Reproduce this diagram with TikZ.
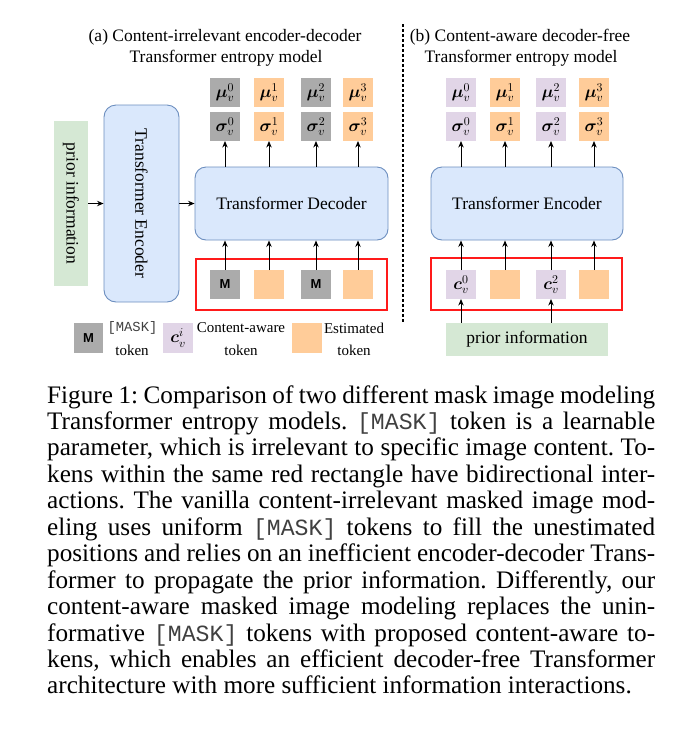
\RequirePackage{fix-cm}
\documentclass[tikz,border=0pt]{standalone}
\usepackage{fontspec}
\setmainfont{Liberation Serif}
\setmonofont[Scale=0.92]{Liberation Mono}
\newfontfamily\arialfont{Liberation Sans}
\usepackage{amsmath,bm}
\usetikzlibrary{arrows.meta}
\definecolor{tgray}{HTML}{ABABAB}
\definecolor{torange}{HTML}{FFCC99}
\definecolor{tpurple}{HTML}{E1D5E7}
\definecolor{tgreen}{HTML}{D5E8D4}
\definecolor{bfill}{HTML}{DAE8FC}
\definecolor{bdraw}{HTML}{6C8EBF}
\definecolor{tred}{HTML}{FF1A1A}
\definecolor{ttgray}{HTML}{404040}
\newcommand\dfnt{\fontsize{17.5}{21}\selectfont}
\newcommand\lfnt{\fontsize{15}{18}\selectfont}
\newcommand\cfnt{\fontsize{25.2}{26.45}\selectfont\frenchspacing}
\newcommand\mlab{\arialfont\bfseries\fontsize{13}{15}\selectfont M}
\newcommand\mtok{{\color{ttgray}\texttt{[MASK]}}}
\newcommand\capline[1]{\makebox[608pt][s]{#1}}
\tikzset{
  tok/.style={minimum width=30pt, minimum height=29pt, inner sep=0pt, outer sep=0pt, font=\fontsize{17}{20}\selectfont},
  gtok/.style={tok, fill=tgray},
  otok/.style={tok, fill=torange},
  ptok/.style={tok, fill=tpurple},
  blk/.style={draw=bdraw, fill=bfill, line width=0.9pt, rounded corners=11pt, inner sep=0pt, font=\dfnt},
  redbox/.style={draw=tred, line width=1.1pt, inner sep=0pt},
  prior/.style={fill=tgreen, inner sep=0pt, font=\dfnt},
  arr/.style={-{Stealth[length=6.5pt,width=5.4pt]}, line width=1pt},
  ttl/.style={anchor=base, inner sep=0pt, font=\dfnt},
  lgd/.style={inner sep=0pt, font=\lfnt},
  capl/.style={anchor=base west, inner sep=0pt, font=\cfnt},
}
\begin{document}
\begin{tikzpicture}[x=1pt,y=-1pt]
\path[use as bounding box] (0,0) rectangle (693,732);

% titles
\node[ttl] (ta1) at (225,41) {(a) Content-irrelevant encoder-decoder};
\node[ttl] (ta2) at (226,62) {Transformer entropy model};
\node[ttl] (tb1) at (520,41) {(b) Content-aware decoder-free};
\node[ttl] (tb2) at (521,62) {Transformer entropy model};

% separator
\coordinate (sepT) at (403,24);
\coordinate (sepB) at (403,322);
\draw[line width=1.1pt, dash pattern=on 3pt off 2pt] (sepT) -- (sepB);

% ---------- (a) ----------
\node[prior, minimum width=34pt, minimum height=165pt] (pa) at (71,203.5) {};
\node[font=\dfnt, rotate=-90] (pat) at (71,203.5) {prior information};
\node[blk, minimum width=75pt, minimum height=197pt, rounded corners=12pt] (enca) at (141.5,203.5) {};
\node[font=\dfnt, rotate=-90] (encat) at (141.5,203.5) {Transformer Encoder};
\node[blk, minimum width=193pt, minimum height=73pt] (dec) at (291.5,203.5) {Transformer Decoder};
\draw[arr] (pa) -- (enca);
\draw[arr] (enca) -- (dec);

\node[redbox, minimum width=191pt, minimum height=51pt] (rba) at (291.5,284.5) {};
\node[gtok] (ia0) at (225,284.5) {\mlab};
\node[otok] (ia1) at (269,284.5) {};
\node[gtok] (ia2) at (316,284.5) {\mlab};
\node[otok] (ia3) at (358,284.5) {};

\node[gtok] (ma0) at (225,92.5) {$\boldsymbol{\mu}_v^0$};
\node[otok] (ma1) at (269,92.5) {$\boldsymbol{\mu}_v^1$};
\node[gtok] (ma2) at (316,92.5) {$\boldsymbol{\mu}_v^2$};
\node[otok] (ma3) at (358,92.5) {$\boldsymbol{\mu}_v^3$};
\node[gtok] (sa0) at (225,126.5) {$\boldsymbol{\sigma}_v^0$};
\node[otok] (sa1) at (269,126.5) {$\boldsymbol{\sigma}_v^1$};
\node[gtok] (sa2) at (316,126.5) {$\boldsymbol{\sigma}_v^2$};
\node[otok] (sa3) at (358,126.5) {$\boldsymbol{\sigma}_v^3$};

\foreach \i in {0,1,2,3} {
  \draw[arr] (ia\i.north) -- (ia\i |- dec.south);
  \draw[arr] (sa\i |- dec.north) -- (sa\i.south);
}

% legend
\node[gtok, minimum width=29pt, minimum height=30pt] (lm) at (88.5,338) {\mlab};
\node[lgd] (lmt1) at (132.5,328) {\mtok};
\node[lgd] (lmt2) at (132,350) {token};
\node[ptok, minimum width=30pt, minimum height=30pt] (lc) at (178,338) {$\boldsymbol{c}_v^i$};
\node[lgd] (lct1) at (241,328) {Content-aware};
\node[lgd] (lct2) at (241,350) {token};
\node[otok, minimum width=30pt, minimum height=30pt] (lo) at (307,338) {};
\node[lgd] (lot1) at (354,328) {Estimated};
\node[lgd] (lot2) at (354,350) {token};

% ---------- (b) ----------
\node[blk, minimum width=192pt, minimum height=73pt] (encb) at (527,203.5) {Transformer Encoder};
\node[redbox, minimum width=191pt, minimum height=52pt] (rbb) at (526.5,284) {};
\node[ptok] (ib0) at (461,284.5) {$\boldsymbol{c}_v^0$};
\node[otok] (ib1) at (505,284.5) {};
\node[ptok] (ib2) at (551,284.5) {$\boldsymbol{c}_v^2$};
\node[otok] (ib3) at (594,284.5) {};
\node[prior, minimum width=162pt, minimum height=33pt] (pb) at (527,339.5) {prior information};

\node[ptok] (mb0) at (461,92.5) {$\boldsymbol{\mu}_v^0$};
\node[otok] (mb1) at (505,92.5) {$\boldsymbol{\mu}_v^1$};
\node[ptok] (mb2) at (551,92.5) {$\boldsymbol{\mu}_v^2$};
\node[otok] (mb3) at (594,92.5) {$\boldsymbol{\mu}_v^3$};
\node[ptok] (sb0) at (461,126.5) {$\boldsymbol{\sigma}_v^0$};
\node[otok] (sb1) at (505,126.5) {$\boldsymbol{\sigma}_v^1$};
\node[ptok] (sb2) at (551,126.5) {$\boldsymbol{\sigma}_v^2$};
\node[otok] (sb3) at (594,126.5) {$\boldsymbol{\sigma}_v^3$};

\foreach \i in {0,1,2,3} {
  \draw[arr] (ib\i.north) -- (ib\i |- encb.south);
  \draw[arr] (sb\i |- encb.north) -- (sb\i.south);
}
\draw[arr] (ib0 |- pb.north) -- (ib0.south);
\draw[arr] (ib2 |- pb.north) -- (ib2.south);

% ---------- caption ----------
\node[capl] (c1) at (47,403) {\capline{Figure 1: Comparison of two different mask image modeling}};
\node[capl] (c2) at (47,429.45) {\capline{Transformer entropy models. \mtok{} token is a learnable}};
\node[capl] (c3) at (47,455.9) {\capline{parameter, which is irrelevant to specific image content. To-}};
\node[capl] (c4) at (47,482.35) {\capline{kens within the same red rectangle have bidirectional inter-}};
\node[capl] (c5) at (47,508.8) {\capline{actions. The vanilla content-irrelevant masked image mod-}};
\node[capl] (c6) at (47,535.25) {\capline{eling uses uniform \mtok{} tokens to fill the unestimated}};
\node[capl] (c7) at (47,561.7) {\capline{positions and relies on an inefficient encoder-decoder Trans-}};
\node[capl] (c8) at (47,588.15) {\capline{former to propagate the prior information. Differently, our}};
\node[capl] (c9) at (47,614.6) {\capline{content-aware masked image modeling replaces the unin-}};
\node[capl] (c10) at (47,641.05) {\capline{formative \mtok{} tokens with proposed content-aware to-}};
\node[capl] (c11) at (47,667.5) {\capline{kens, which enables an efficient decoder-free Transformer}};
\node[capl] (c12) at (47,693.95) {architecture with more sufficient information interactions.};
\end{tikzpicture}
\end{document}
